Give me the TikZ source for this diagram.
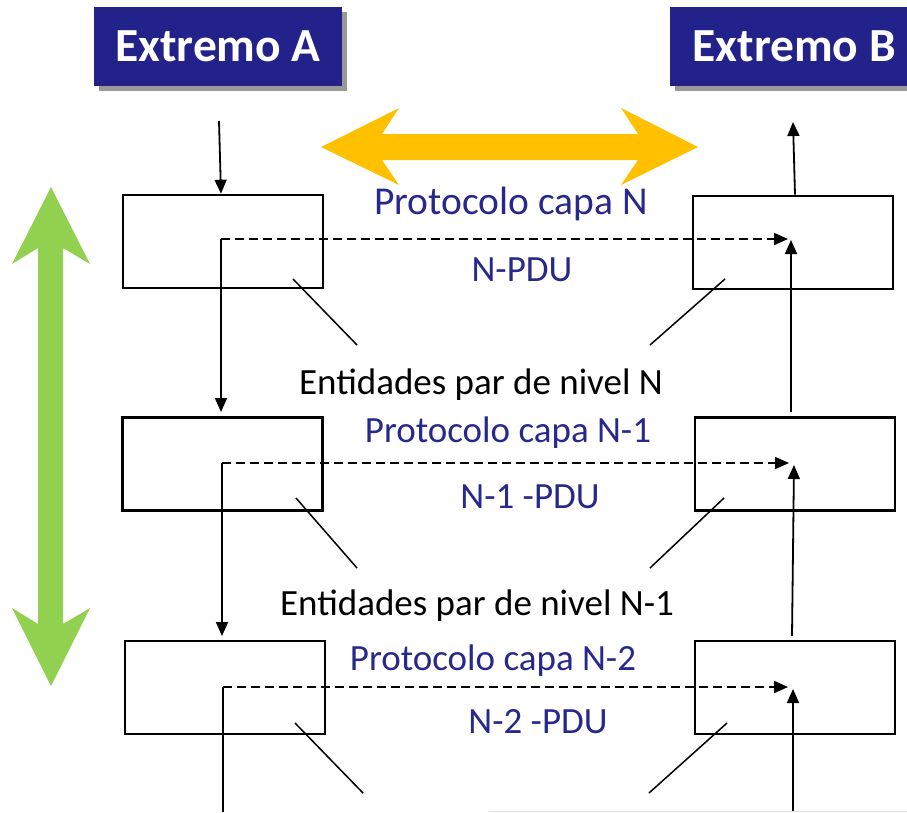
\documentclass[tikz,border=0pt]{standalone}
\usepackage{fontspec}
\setmainfont{Carlito}
\usetikzlibrary{arrows.meta}
\definecolor{hdrblue}{RGB}{34,34,138}
\definecolor{lblblue}{RGB}{40,40,140}
\definecolor{yel}{RGB}{255,192,0}
\definecolor{grn}{RGB}{146,208,80}
\tikzset{
  hdr/.style={fill=hdrblue, text=white, font=\fontsize{47.5}{50}\selectfont\bfseries, minimum width=248pt, minimum height=79pt, inner sep=0pt},
  hdrshadow/.style={fill=black!40},
  entbox/.style={draw=black, line width=2.6pt, minimum width=200pt, minimum height=93pt, inner sep=0pt},
  proto/.style={text=lblblue, font=\fontsize{37}{40}\selectfont, anchor=base, inner sep=0pt},
  ent/.style={text=black, font=\fontsize{37}{40}\selectfont, anchor=base, inner sep=0pt},
  conn/.style={line width=1.8pt, -{Triangle[length=14pt,width=12pt]}},
  plainln/.style={line width=1.8pt},
  dashconn/.style={line width=1.8pt, dash pattern=on 9pt off 5pt, -{Triangle[length=14pt,width=12pt]}},
  diag/.style={line width=1.5pt}
}
\begin{document}
\begin{tikzpicture}[x=1pt,y=-1pt]
\useasboundingbox (0,0) rectangle (907,812);
% headers with shadow
\fill[hdrshadow] (99,12) rectangle (347,91);
\node[hdr] (hA) at (218,46.5) {Extremo A};
\fill[hdrshadow] (675,12) rectangle (920,91);
\node[hdr, anchor=west] (hB) at (670,46.5) {Extremo B};
% yellow double arrow
\fill[yel] (321,147) -- (399,108) -- (382,134) -- (638,134) -- (621,108) -- (698,147)
  -- (621,185) -- (638,160) -- (382,160) -- (399,185) -- cycle;
% green double arrow
\fill[grn] (51,187) -- (90,264) -- (63,248) -- (63,624) -- (90,608) -- (51,686)
  -- (12,608) -- (38,624) -- (38,248) -- (12,264) -- cycle;
% boxes
\node[entbox] (L1) at (223,241.5) {};
\node[entbox] (R1) at (793,242.5) {};
\node[entbox] (L2) at (222.5,464) {};
\node[entbox] (R2) at (795,464) {};
\node[entbox] (L3) at (225,687.5) {};
\node[entbox] (R3) at (795,687.5) {};
% coordinates
\coordinate (inA) at (219,121);
\coordinate (outB) at (793,122);
\coordinate (d1s) at (221,239);
\coordinate (d1e) at (788,239);
\coordinate (u1e) at (791,240);
\coordinate (d2s) at (222,463);
\coordinate (d2e) at (789,463);
\coordinate (u2e) at (794,465);
\coordinate (d3s) at (223,687);
\coordinate (d3e) at (788,687);
\coordinate (u3e) at (793,689);
\coordinate (botL) at (223,812);
\coordinate (botR) at (793,812);
% texts
\node[proto, font=\fontsize{39.5}{42}\selectfont] (p1) at (511,214) {Protocolo capa N};
\node[proto] (q1) at (522,281) {N-PDU};
\node[ent] (e1) at (481,394) {Entidades par de nivel N};
\node[proto] (p2) at (508,442) {Protocolo capa N-1};
\node[proto] (q2) at (530,508) {N-1 -PDU};
\node[ent] (e2) at (477,615) {Entidades par de nivel N-1};
\node[proto] (p3) at (493,670) {Protocolo capa N-2};
\node[proto] (q3) at (538,733) {N-2 -PDU};
% connectors
\draw[conn] (inA) -- (L1.north -| d1s);
\draw[conn] (R1.north -| 795,0) -- (outB);
\draw[dashconn] (d1s) -- (d1e);
\draw[conn] (d1s) -- (221,412);
\draw[conn] (791,412) -- (u1e);
\draw[dashconn] (d2s) -- (d2e);
\draw[conn] (d2s) -- (222,636);
\draw[conn] (792,636) -- (u2e);
\draw[dashconn] (d3s) -- (d3e);
\draw[plainln] (d3s) -- (botL);
\draw[conn] (botR) -- (u3e);
% diagonals
\draw[diag] (293,279) -- (357,345);
\draw[diag] (725,279) -- (650,345);
\draw[diag] (296,498) -- (357,568);
\draw[diag] (724,498) -- (650,568);
\draw[diag] (295,723) -- (363,793);
\draw[diag] (727,723) -- (649,793);
% faint bottom line
\draw[black!12, line width=1pt] (489,811) -- (907,811);
\end{tikzpicture}
\end{document}
